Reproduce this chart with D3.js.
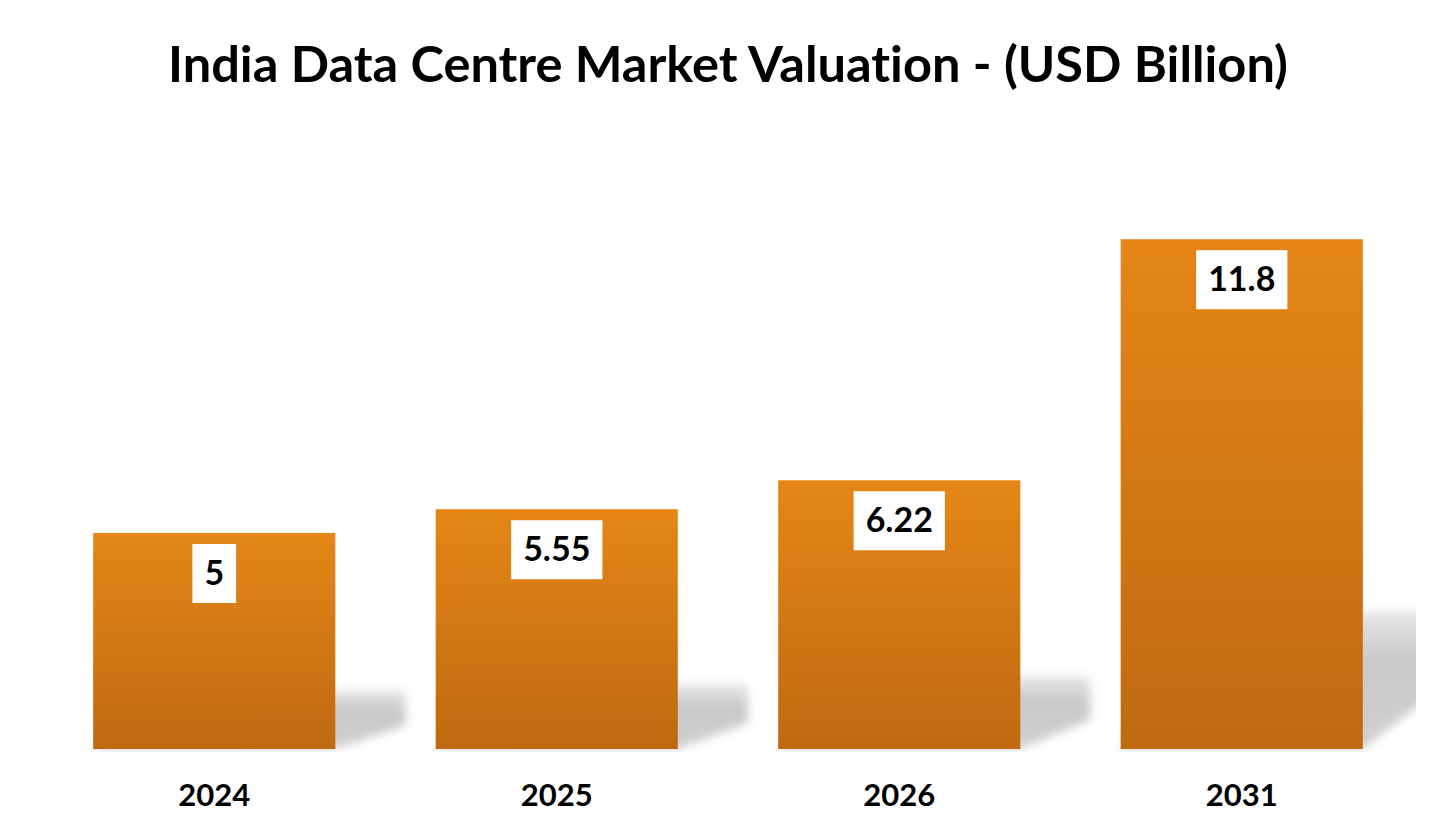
<!DOCTYPE html>
<html>
<head>
<meta charset="utf-8">
<script src="https://cdn.jsdelivr.net/npm/d3@7"></script>
<style>
  html, body { margin: 0; padding: 0; background: #fff; }
  svg { display: block; }
  text { font-variant-ligatures: none; }
</style>
</head>
<body>
<script>
// chart data
var years = ['2024', '2025', '2026', '2031'];
var values = [5, 5.55, 6.22, 11.8];
var labels = ['5', '5.55', '6.22', '11.8'];
var title = 'India Data Centre Market Valuation - (USD Billion)';

var W = 1456, H = 840;
var svg = d3.select('body').append('svg').attr('width', W).attr('height', H);
var defs = svg.append('defs');

var grad = defs.append('linearGradient').attr('id', 'barGrad')
  .attr('x1', 0).attr('y1', 0).attr('x2', 0).attr('y2', 1);
grad.append('stop').attr('offset', '0%').attr('stop-color', '#e58617');
grad.append('stop').attr('offset', '100%').attr('stop-color', '#bf6a10');

var sgrad = defs.append('linearGradient').attr('id', 'shadowGrad')
  .attr('x1', 0).attr('y1', 0).attr('x2', 0).attr('y2', 1);
sgrad.append('stop').attr('offset', '0%').attr('stop-color', '#bbbbbb').attr('stop-opacity', 0.35);
sgrad.append('stop').attr('offset', '35%').attr('stop-color', '#bbbbbb').attr('stop-opacity', 0.8);
sgrad.append('stop').attr('offset', '100%').attr('stop-color', '#c8c8c8').attr('stop-opacity', 0.85);

defs.append('filter').attr('id', 'blur').attr('x', '-20%').attr('y', '-30%')
  .attr('width', '140%').attr('height', '160%')
  .append('feGaussianBlur').attr('stdDeviation', 5);

defs.append('clipPath').attr('id', 'plotClip')
  .append('rect').attr('x', 0).attr('y', 0).attr('width', 1416).attr('height', 752);

var x = d3.scaleBand().domain(years).range([43, 1413])
  .paddingInner(0.293).paddingOuter(0.1465);
var y = d3.scaleLinear().domain([0, 14]).range([749, 749 - 14 * 43.2]);

// shadows
svg.append('g').attr('clip-path', 'url(#plotClip)')
  .selectAll('path').data(values).enter().append('path')
  .attr('d', function(d, i) {
    var x0 = x(years[i]), x1 = x0 + x.bandwidth();
    var b = y(0), sh = (y(0) - y(d)) * 0.27, dx = 70;
    return 'M' + x0 + ',' + b + 'L' + x1 + ',' + b +
      'L' + (x1 + dx) + ',' + (b - sh * 0.4) + 'L' + (x1 + dx) + ',' + (b - sh) +
      'L' + (x0 + dx) + ',' + (b - sh) + 'Z';
  })
  .attr('fill', 'url(#shadowGrad)')
  .attr('filter', 'url(#blur)');

// bars
svg.append('g').selectAll('rect').data(values).enter().append('rect')
  .attr('x', function(d, i) { return x(years[i]); })
  .attr('y', function(d) { return y(d); })
  .attr('width', x.bandwidth())
  .attr('height', function(d) { return y(0) - y(d); })
  .attr('fill', 'url(#barGrad)');

// value labels
var lab = svg.append('g').selectAll('g').data(values).enter().append('g');
lab.append('text')
  .attr('x', function(d, i) { return x(years[i]) + x.bandwidth() / 2; })
  .attr('y', function(d) { return y(d) + 52; })
  .attr('text-anchor', 'middle')
  .attr('font-family', 'Lato, sans-serif')
  .attr('font-weight', 'bold')
  .attr('font-size', 34)
  .attr('fill', '#000')
  .text(function(d, i) { return labels[i]; });
lab.each(function() {
  var g = d3.select(this), t = g.select('text');
  var bb = t.node().getBBox();
  var cx = bb.x + bb.width / 2;
  var ty = +t.attr('y');
  g.insert('rect', 'text')
    .attr('x', cx - bb.width / 2 - 12)
    .attr('y', ty - 41)
    .attr('width', bb.width + 24)
    .attr('height', 59)
    .attr('fill', '#fff');
});

// x axis labels
var xAxis = d3.axisBottom(x).tickSize(0).tickPadding(0);
var ax = svg.append('g').attr('transform', 'translate(0,' + y(0) + ')').call(xAxis);
ax.select('.domain').remove();
ax.selectAll('text')
  .attr('y', 57).attr('dy', 0)
  .attr('font-family', 'Lato, sans-serif')
  .attr('font-weight', 'bold')
  .attr('font-size', 31)
  .attr('fill', '#000');

// title
var tt = svg.append('text')
  .attr('x', 728).attr('y', 82)
  .attr('text-anchor', 'middle')
  .attr('font-family', 'Lato, sans-serif')
  .attr('font-weight', 'bold')
  .attr('font-size', 50)
  .attr('fill', '#000')
  .text(title);
var tw = tt.node().getComputedTextLength();
tt.attr('font-size', 50 * 1120 / tw);
</script>
</body>
</html>
